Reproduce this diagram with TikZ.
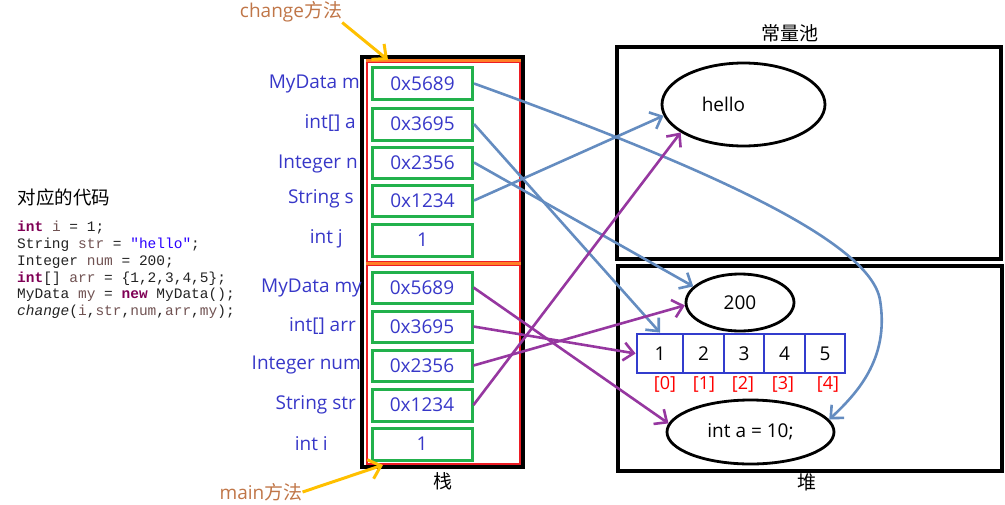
\documentclass[tikz,border=0pt]{standalone}
\usepackage{fontspec}
\setmainfont{Open Sans}
\newfontfamily\cjk{Noto Sans CJK SC}
\newfontfamily\codefont{Liberation Mono}
\usetikzlibrary{shapes.geometric,arrows.meta}
\definecolor{lblue}{RGB}{55,55,200}
\definecolor{boxgreen}{RGB}{34,177,76}
\definecolor{stkred}{RGB}{237,28,36}
\definecolor{stkorange}{RGB}{255,127,39}
\definecolor{steel}{RGB}{100,140,192}
\definecolor{purp}{RGB}{150,55,160}
\definecolor{yel}{RGB}{255,192,0}
\definecolor{brn}{RGB}{192,118,72}
\definecolor{arrblue}{RGB}{50,60,205}
\definecolor{kw}{RGB}{127,0,85}
\definecolor{var}{RGB}{112,82,82}
\definecolor{strc}{RGB}{42,0,255}
\definecolor{codetxt}{RGB}{35,35,35}
\begin{document}
\begin{tikzpicture}[x=1pt,y=-1pt,
  f19/.style={font=\fontsize{19}{22}\selectfont},
  cell/.style={draw=boxgreen, line width=3pt, minimum width=100pt, inner sep=0pt, text=lblue, f19},
  lbl/.style={anchor=east, text=lblue, f19, inner sep=0pt, text height=14pt, text depth=4pt},
  ell/.style={draw=black, ellipse, line width=2.8pt, inner sep=0pt, f19},
  acell/.style={draw=arrblue, line width=2.8pt, minimum height=39pt, inner sep=0pt, f19},
  idx/.style={text=red, font=\fontsize{18}{21}\selectfont, inner sep=0pt},
  ptr/.style={line width=2.6pt, -{Straight Barb[length=10pt,width=18pt]}},
  blueptr/.style={ptr, draw=steel},
  purpptr/.style={ptr, draw=purp},
  yptr/.style={line width=3pt, draw=yel, -{Straight Barb[length=11pt,width=20pt]}},
  ttl/.style={font=\cjk\fontsize{19}{22}\selectfont, inner sep=0pt},
  code/.style={anchor=base west, inner sep=0pt, text=codetxt, font=\codefont\fontsize{14.5}{17}\selectfont},
  region/.style={draw=black, line width=3.2pt, inner sep=0pt}
]
\useasboundingbox (0,0) rectangle (1005,504);

% constant pool and heap
\node[region, minimum width=384pt, minimum height=212pt] (pool) at (809,153) {};
\node[region, minimum width=384pt, minimum height=205pt] (heap) at (810,368.5) {};
\node[ttl] (pooltitle) at (790,33) {常量池};
\node[ttl] (heaptitle) at (807,482) {堆};

% stack
\node[draw=black, line width=3.8pt, minimum width=161pt, minimum height=410pt, inner sep=0pt] (stack) at (442.5,262) {};
\node[ttl] (stacktitle) at (443,481) {栈};
\node[draw=stkred, line width=2.8pt, minimum width=153pt, minimum height=200pt, inner sep=0pt] (chg) at (443.5,162) {};
\node[draw=stkred, line width=2.8pt, minimum width=153pt, minimum height=199pt, inner sep=0pt] (mn) at (443.5,364.5) {};
\draw[stkorange, line width=2.8pt] (chg.north west) -- (chg.north east);
\draw[stkorange, line width=2.8pt] (mn.north west) -- (mn.north east);

% change frame cells
\node[cell, minimum height=32pt] (c1) at (422.5,83.5) {0x5689};
\node[cell, minimum height=32pt] (c2) at (422.5,124) {0x3695};
\node[cell, minimum height=31pt] (c3) at (422.5,162.5) {0x2356};
\node[cell, minimum height=31pt] (c4) at (422.5,200.5) {0x1234};
\node[cell, minimum height=32pt] (c5) at (422.5,240) {1};
\node[lbl] (lc1) at (360,83) {MyData m};
\node[lbl] (lc2) at (356,123) {int[] a};
\node[lbl] (lc3) at (358,163) {Integer n};
\node[lbl] (lc4) at (354,198) {String s};
\node[lbl] (lc5) at (343,238) {int j};

% main frame cells
\node[cell, minimum height=31pt] (m1) at (422,287.5) {0x5689};
\node[cell, minimum height=31pt] (m2) at (422,326.5) {0x3695};
\node[cell, minimum height=31pt] (m3) at (422,365.5) {0x2356};
\node[cell, minimum height=32pt] (m4) at (422,405) {0x1234};
\node[cell, minimum height=32pt] (m5) at (422,444) {1};
\node[lbl] (lm1) at (362,287) {MyData my};
\node[lbl] (lm2) at (356,326) {int[] arr};
\node[lbl] (lm3) at (361,364) {Integer num};
\node[lbl] (lm4) at (356,404) {String str};
\node[lbl] (lm5) at (328,445) {int i};

% heap / pool contents
\node[ell, minimum width=163pt, minimum height=83pt, label={[f19, xshift=-20pt]center:hello}] (hello) at (743.5,104.5) {};
\node[ell, minimum width=108pt, minimum height=57pt] (n200) at (740,302.5) {200};
\node[ell, minimum width=167pt, minimum height=64pt] (ia) at (750.5,432) {int a = 10;};

\node[acell, minimum width=46pt] (a1) at (660,353.5) {1};
\node[acell, minimum width=41pt] (a2) at (703.5,353.5) {2};
\node[acell, minimum width=40pt] (a3) at (744,353.5) {3};
\node[acell, minimum width=41pt] (a4) at (784.5,353.5) {4};
\node[acell, minimum width=40pt] (a5) at (825,353.5) {5};
\node[idx] (i0) at (665,384) {[0]};
\node[idx] (i1) at (704,384) {[1]};
\node[idx] (i2) at (743,384) {[2]};
\node[idx] (i3) at (783,384) {[3]};
\node[idx] (i4) at (828,384) {[4]};

% pointers from change frame
\draw[blueptr] (c1.east) .. controls (700,165) and (870,240) .. (880,300) .. controls (890,360) and (855,395) .. (ia.9);
\draw[blueptr] (c2.east) -- (a1.north);
\draw[blueptr] (c3.east) -- (n200.161);
\draw[blueptr] (c4.east) -- (hello.188);

% pointers from main frame
\draw[purpptr] (m1.east) -- (ia.174);
\draw[purpptr] (m2.east) -- (a1.west);
\draw[purpptr] (m3.east) -- (n200.183);
\draw[purpptr] (m4.east) -- (hello.204);

% frame labels
\node[text=brn, f19, inner sep=0pt] (chgtxt) at (291,12) {change{\cjk 方法}};
\node[text=brn, f19, inner sep=0pt] (maintxt) at (261,492) {main{\cjk 方法}};
\coordinate (chgtip) at (388,60);
\coordinate (maintip) at (383,465);
\draw[yptr] (chgtxt.south east) -- (chgtip);
\draw[yptr] (maintxt.east) -- (maintip);

% code
\node[font=\cjk\fontsize{18.5}{21}\selectfont, inner sep=0pt] (codetitle) at (64,197) {对应的代码};
\node[code] (l1) at (17,231) {{\color{kw}\bfseries int} {\color{var}i} = 1;};
\node[code] (l2) at (17,248) {String {\color{var}str} = {\color{strc}"hello"};};
\node[code] (l3) at (17,265) {Integer {\color{var}num} = 200;};
\node[code] (l4) at (17,282) {{\color{kw}\bfseries int}[] {\color{var}arr} = \{1,2,3,4,5\};};
\node[code] (l5) at (17,298) {MyData {\color{var}my} = {\color{kw}\bfseries new} MyData();};
\node[code] (l6) at (17,315) {\textit{change}({\color{var}i},{\color{var}str},{\color{var}num},{\color{var}arr},{\color{var}my});};
\end{tikzpicture}
\end{document}
